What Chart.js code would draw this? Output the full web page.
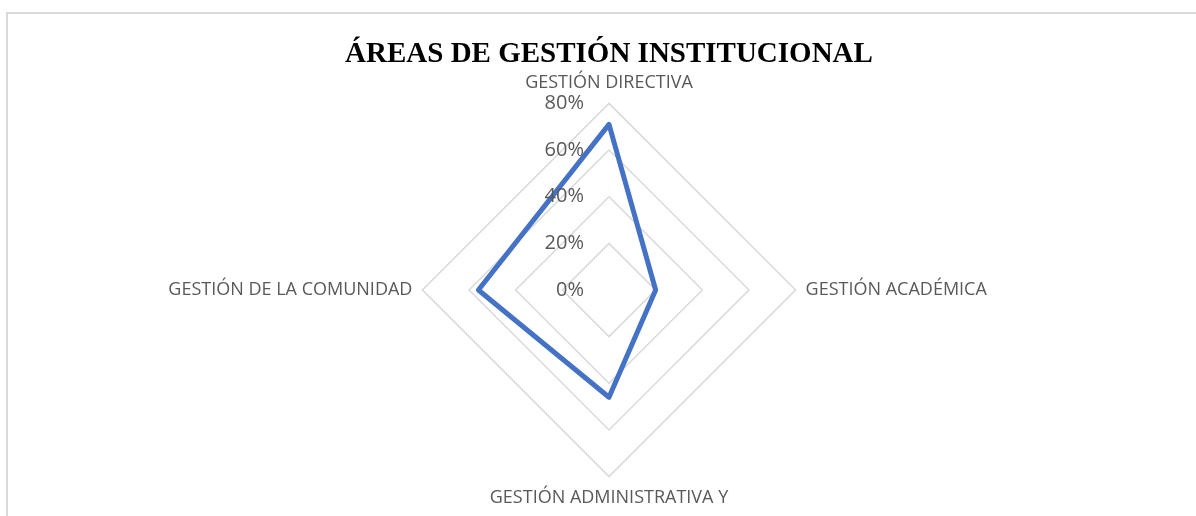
<!DOCTYPE html>
<html>
<head>
<meta charset="utf-8">
<script src="https://cdn.jsdelivr.net/npm/chart.js@4.4.1/dist/chart.umd.min.js"></script>
<style>
    html, body { margin: 0; padding: 0; background: #fff; overflow: hidden; }
    #frame { position: absolute; left: 6px; top: 12px; width: 1400px; height: 700px; border: 2px solid #d9d9d9; }
    #wrap { position: absolute; left: 0; top: 0; width: 1196px; height: 516px; }
</style>
</head>
<body>
<div id="frame"></div>
<div id="wrap"><canvas id="radarChart"></canvas></div>
<script>
const areas = ['GESTIÓN DIRECTIVA', 'GESTIÓN ACADÉMICA', 'GESTIÓN ADMINISTRATIVA Y', 'GESTIÓN DE LA COMUNIDAD'];
const percentages = [71, 20, 46, 56];
const tickValues = [0, 20, 40, 60, 80];

// Excel-style tick labels sit left of the vertical axis, not centered on it
const sideTicks = {
    id: 'sideTicks',
    afterDatasetsDraw(chart) {
        const scale = chart.scales.r;
        const ctx = chart.ctx;
        ctx.save();
        ctx.font = '20px "Open Sans"';
        ctx.fillStyle = '#595959';
        ctx.textAlign = 'right';
        ctx.textBaseline = 'middle';
        tickValues.forEach(function (v) {
            const d = scale.getDistanceFromCenterForValue(v);
            ctx.fillText(v + '%', scale.xCenter - 25, scale.yCenter - d);
        });
        ctx.restore();
    }
};

document.addEventListener('DOMContentLoaded', function () {
    const ctx = document.getElementById('radarChart').getContext('2d');

    new Chart(ctx, {
        type: 'radar',
        data: {
            labels: areas,
            datasets: [{
                label: 'Áreas',
                data: percentages,
                borderColor: '#4472c4',
                borderWidth: 5,
                borderJoinStyle: 'round',
                pointRadius: 0,
                fill: false,
                tension: 0
            }]
        },
        options: {
            responsive: true,
            maintainAspectRatio: false,
            animation: false,
            layout: { padding: { left: 22, right: 0, top: 0, bottom: 6 } },
            plugins: {
                legend: { display: false },
                tooltip: { enabled: false },
                title: {
                    display: true,
                    text: 'ÁREAS DE GESTIÓN INSTITUCIONAL',
                    color: '#000',
                    font: { family: '"Liberation Serif", serif', size: 29, weight: 'bold' },
                    padding: { top: 37, bottom: 0 }
                }
            },
            scales: {
                r: {
                    min: 0,
                    max: 80,
                    ticks: { display: false, stepSize: 20 },
                    grid: { color: '#d9d9d9', lineWidth: 1.5, circular: false },
                    angleLines: { display: false },
                    pointLabels: {
                        color: '#595959',
                        padding: 10,
                        font: { family: '"Open Sans"', size: 18 }
                    }
                }
            }
        },
        plugins: [sideTicks]
    });
});
</script>
</body>
</html>
